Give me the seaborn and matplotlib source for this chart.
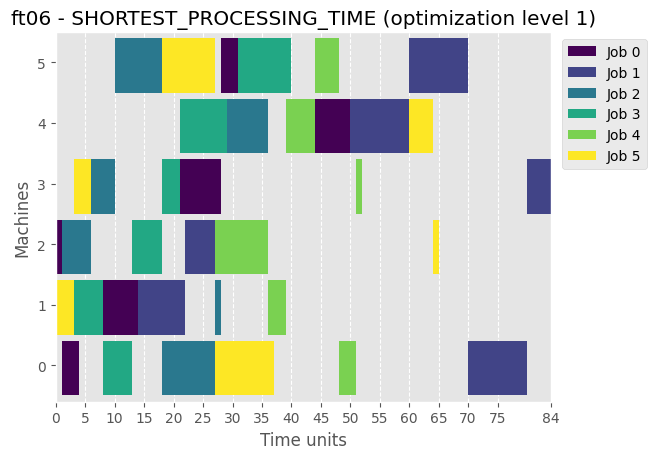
import matplotlib
matplotlib.use('Agg')
import matplotlib.pyplot as plt
import seaborn as sns
import numpy as np
import pandas as pd

# ft06 schedule, one list per job: machine, start, duration for each operation
jobs = ['Job 0', 'Job 1', 'Job 2', 'Job 3', 'Job 4', 'Job 5']
job_machines = [
    [2, 0, 1, 3, 5, 4],
    [1, 2, 4, 5, 0, 3],
    [2, 3, 5, 0, 1, 4],
    [1, 0, 2, 3, 4, 5],
    [2, 1, 4, 5, 0, 3],
    [1, 3, 5, 0, 4, 2],
]
job_starts = [
    [0, 1, 8, 21, 28, 44],
    [14, 22, 50, 60, 70, 80],
    [1, 6, 10, 18, 27, 29],
    [3, 8, 13, 18, 21, 31],
    [27, 36, 39, 44, 48, 51],
    [0, 3, 18, 27, 60, 64],
]
job_durations = [
    [1, 3, 6, 7, 3, 6],
    [8, 5, 10, 10, 10, 4],
    [5, 4, 8, 9, 1, 7],
    [5, 5, 5, 3, 8, 9],
    [9, 3, 5, 4, 3, 1],
    [3, 3, 9, 10, 4, 1],
]
makespan = 84
x_ticks = [0, 5, 10, 15, 20, 25, 30, 35, 40, 45, 50, 55, 60, 65, 70, 75, 84]

rows = []
for j, job in enumerate(jobs):
    for m, s, d in zip(job_machines[j], job_starts[j], job_durations[j]):
        rows.append({'job': job, 'machine': m, 'start': s, 'duration': d})
df = pd.DataFrame(rows)

plt.style.use('ggplot')
cmap = sns.color_palette('viridis', as_cmap=True)
colors = dict(zip(jobs, cmap(np.linspace(0, 1, len(jobs)))))

fig, ax = plt.subplots(figsize=(6.57, 4.6), dpi=100)
fig.subplots_adjust(left=0.085, right=0.838, top=0.928, bottom=0.125)

for job in jobs:
    sub = df[df['job'] == job]
    ax.barh(sub['machine'] - 0.05, sub['duration'], left=sub['start'], height=0.9,
            color=colors[job], edgecolor='none', label=job)

ax.grid(False)
ax.grid(axis='x', linestyle='--', color='white', linewidth=0.8)
ax.set_xlim(0, makespan)
ax.set_ylim(-0.6, 5.5)
ax.set_xticks(x_ticks)
ax.set_yticks(range(6))
ax.set_title('ft06 - SHORTEST_PROCESSING_TIME (optimization level 1)')
ax.set_xlabel('Time units')
ax.set_ylabel('Machines')
ax.legend(loc='upper left', bbox_to_anchor=(1.01, 1))

fig.savefig('out.png', dpi=100)
